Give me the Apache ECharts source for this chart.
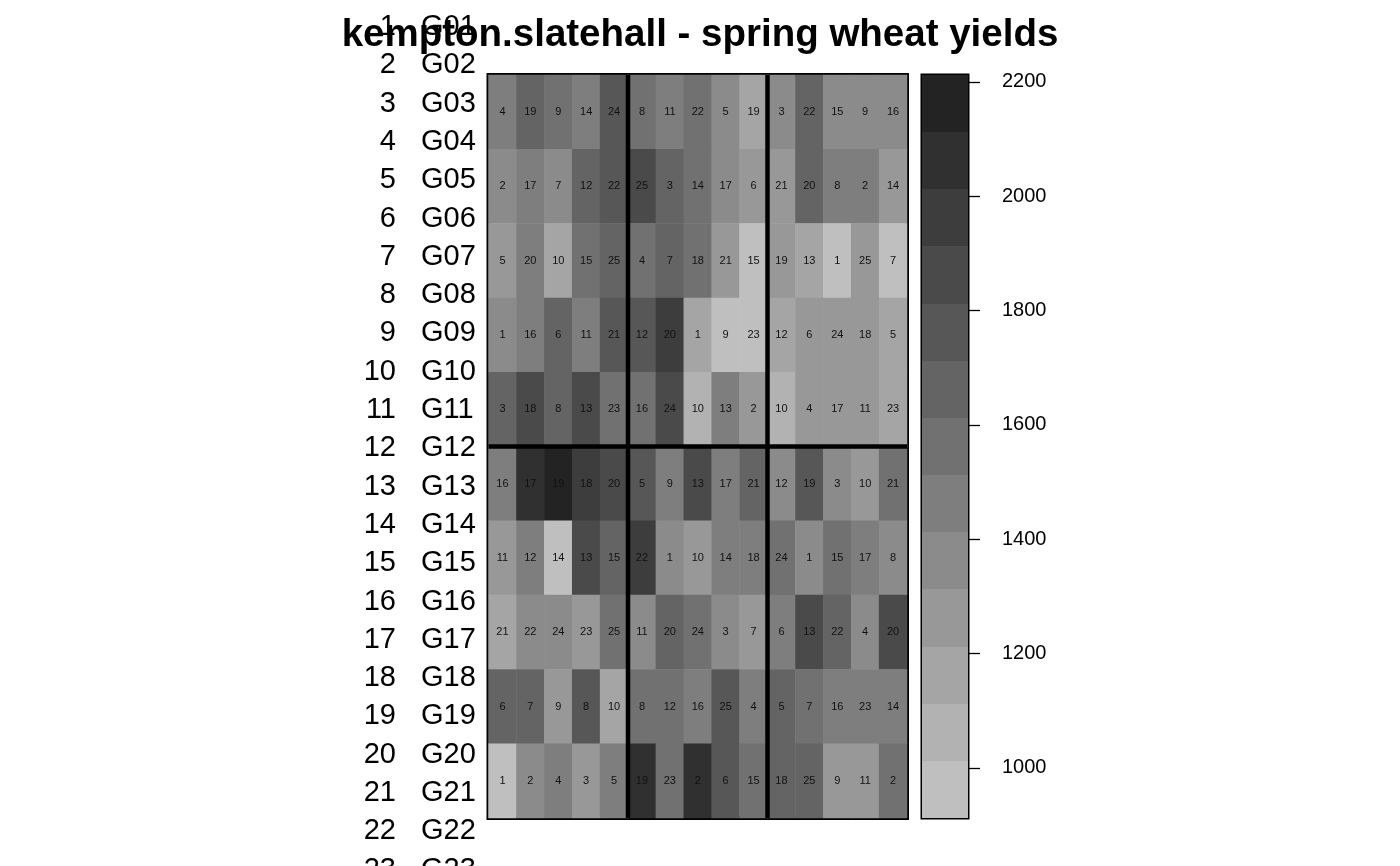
<!DOCTYPE html>
<html>
<head>
<meta charset="utf-8">
<script src="https://cdn.jsdelivr.net/npm/echarts@6/dist/echarts.min.js"></script>
<style>
  html, body { margin: 0; padding: 0; background: #fff; }
  #chart { width: 1400px; height: 866px; }
</style>
</head>
<body>
<div id="chart"></div>
<script>
// field layout: 10 rows x 15 columns, blocks of 5 x 5
const colNames = ['1', '2', '3', '4', '5', '6', '7', '8', '9', '10', '11', '12', '13', '14', '15']
const rowNames = ['1', '2', '3', '4', '5', '6', '7', '8', '9', '10']
const blockCols = [5, 10]   // column boundaries between reps
const blockRows = [5]       // row boundary between reps

// yield per plot, row by row
const yieldRows = [
  [1460, 1655, 1560, 1440, 1750, 1540, 1470, 1575, 1370, 1150, 1345, 1680, 1385, 1360, 1375],
  [1380, 1455, 1360, 1660, 1770, 1850, 1640, 1560, 1395, 1260, 1280, 1625, 1480, 1490, 1270],
  [1290, 1465, 1170, 1555, 1650, 1545, 1665, 1570, 1265, 960, 1275, 1180, 955, 1285, 945],
  [1375, 1450, 1640, 1480, 1760, 1740, 1950, 1160, 990, 950, 1190, 1255, 1250, 1240, 1195],
  [1650, 1860, 1660, 1880, 1590, 1550, 1870, 1070, 1440, 1270, 1085, 1245, 1260, 1250, 1200],
  [1470, 2070, 2170, 1960, 1885, 1775, 1465, 1845, 1450, 1630, 1340, 1735, 1375, 1295, 1580],
  [1260, 1480, 975, 1855, 1670, 1940, 1340, 1230, 1470, 1445, 1555, 1360, 1540, 1475, 1365],
  [1175, 1380, 1355, 1250, 1565, 1350, 1660, 1600, 1390, 1250, 1465, 1840, 1690, 1370, 1865],
  [1630, 1640, 1290, 1720, 1165, 1585, 1575, 1440, 1735, 1485, 1675, 1590, 1455, 1470, 1495],
  [990, 1365, 1460, 1260, 1485, 2030, 1545, 2050, 1745, 1565, 1690, 1660, 1275, 1285, 1595]
]

// genotype number printed in each plot
const genoRows = [
  [4, 19, 9, 14, 24, 8, 11, 22, 5, 19, 3, 22, 15, 9, 16],
  [2, 17, 7, 12, 22, 25, 3, 14, 17, 6, 21, 20, 8, 2, 14],
  [5, 20, 10, 15, 25, 4, 7, 18, 21, 15, 19, 13, 1, 25, 7],
  [1, 16, 6, 11, 21, 12, 20, 1, 9, 23, 12, 6, 24, 18, 5],
  [3, 18, 8, 13, 23, 16, 24, 10, 13, 2, 10, 4, 17, 11, 23],
  [16, 17, 19, 18, 20, 5, 9, 13, 17, 21, 12, 19, 3, 10, 21],
  [11, 12, 14, 13, 15, 22, 1, 10, 14, 18, 24, 1, 15, 17, 8],
  [21, 22, 24, 23, 25, 11, 20, 24, 3, 7, 6, 13, 22, 4, 20],
  [6, 7, 9, 8, 10, 8, 12, 16, 25, 4, 5, 7, 16, 23, 14],
  [1, 2, 4, 3, 5, 19, 23, 2, 6, 15, 18, 25, 9, 11, 2]
]

// colour key
const breaks = [912, 1012, 1112, 1212, 1312, 1412, 1512, 1612, 1712, 1812, 1912, 2012, 2112, 2212]
const grays = ['#bfbfbf', '#b2b2b2', '#a5a5a5', '#989898', '#8b8b8b', '#7e7e7e', '#717171',
  '#646464', '#575757', '#4a4a4a', '#3d3d3d', '#303030', '#232323']
const keyTicks = [1000, 1200, 1400, 1600, 1800, 2000, 2200]

// genotype key drawn down the left margin
const keyNumbers = ['1', '2', '3', '4', '5', '6', '7', '8', '9', '10', '11', '12',
  '13', '14', '15', '16', '17', '18', '19', '20', '21', '22', '23']
const keyCodes = ['G01', 'G02', 'G03', 'G04', 'G05', 'G06', 'G07', 'G08', 'G09', 'G10', 'G11', 'G12',
  'G13', 'G14', 'G15', 'G16', 'G17', 'G18', 'G19', 'G20', 'G21', 'G22', 'G23']

const FONT = 'Liberation Sans, Arial, sans-serif'

const cells = []
yieldRows.forEach((row, r) => {
  row.forEach((v, c) => {
    cells.push([c, r, v, genoRows[r][c]])
  })
})

const pieces = grays.map((g, i) => ({ gte: breaks[i], lt: breaks[i + 1], color: g }))
pieces[pieces.length - 1].lte = breaks[breaks.length - 1]

const bands = grays.map((g, i) => [0, breaks[i], breaks[i + 1]])

const dividers = blockCols.map(c => ['v', c]).concat(blockRows.map(r => ['h', r]))

const chart = echarts.init(document.getElementById('chart'))

const hiddenCat = { axisLine: { show: false }, axisTick: { show: false }, splitLine: { show: false } }
const keyText = { fontFamily: FONT, fontSize: 29, color: '#000' }

const option = {
  animation: false,
  backgroundColor: '#fff',
  title: {
    text: 'kempton.slatehall - spring wheat yields',
    left: 'center',
    top: 11,
    textStyle: { fontFamily: FONT, fontSize: 38.5, fontWeight: 'bold', color: '#000' }
  },
  grid: [
    // field
    { left: 488.5, top: 75, width: 418.5, height: 743, outerBoundsMode: 'none',
      show: true, borderColor: '#000', borderWidth: 4, backgroundColor: 'transparent' },
    // colour bar
    { left: 922, top: 75, width: 46, height: 743, outerBoundsMode: 'none',
      show: true, borderColor: '#000', borderWidth: 3, backgroundColor: 'transparent' },
    // genotype key
    { left: 397, top: 7.85, width: 24, height: 881, outerBoundsMode: 'none' }
  ],
  visualMap: {
    type: 'piecewise',
    show: false,
    seriesIndex: 0,
    dimension: 2,
    pieces: pieces
  },
  xAxis: [
    { type: 'category', gridIndex: 0, data: colNames, show: false },
    { type: 'value', gridIndex: 0, min: 0, max: colNames.length, show: false },
    { type: 'value', gridIndex: 1, min: 0, max: 1, show: false },
    { type: 'value', gridIndex: 2, show: false }
  ],
  yAxis: [
    { type: 'category', gridIndex: 0, data: rowNames, inverse: true, show: false },
    { type: 'value', gridIndex: 0, min: 0, max: rowNames.length, inverse: true, show: false },
    {
      type: 'value', gridIndex: 1, position: 'right',
      min: breaks[0], max: breaks[breaks.length - 1],
      axisLine: { show: false },
      splitLine: { show: false },
      axisTick: { show: false },
      axisLabel: {
        show: true, margin: 34, customValues: keyTicks,
        formatter: (v) => String(v),
        fontFamily: FONT, fontSize: 20, color: '#000'
      }
    },
    Object.assign({
      type: 'category', gridIndex: 2, data: keyNumbers, inverse: true, position: 'left',
      axisLabel: Object.assign({ interval: 0, margin: 1, align: 'right' }, keyText)
    }, hiddenCat),
    Object.assign({
      type: 'category', gridIndex: 2, data: keyCodes, inverse: true, position: 'right',
      axisLabel: Object.assign({ interval: 0, margin: 0, align: 'left' }, keyText)
    }, hiddenCat)
  ],
  series: [
    {
      type: 'heatmap',
      xAxisIndex: 0,
      yAxisIndex: 0,
      data: cells,
      label: {
        show: true,
        formatter: (p) => String(p.data[3]),
        fontFamily: FONT,
        fontSize: 11,
        color: '#111'
      },
      emphasis: { disabled: true }
    },
    {
      // thick lines between the replicate blocks
      type: 'custom',
      xAxisIndex: 1,
      yAxisIndex: 1,
      data: dividers,
      silent: true,
      z: 10,
      renderItem: (params, api) => {
        const d = dividers[params.dataIndex]
        const a = d[0] === 'v' ? api.coord([d[1], 0]) : api.coord([0, d[1]])
        const b = d[0] === 'v' ? api.coord([d[1], rowNames.length]) : api.coord([colNames.length, d[1]])
        return {
          type: 'line',
          shape: { x1: a[0], y1: a[1], x2: b[0], y2: b[1] },
          style: { stroke: '#000', lineWidth: 4.5 }
        }
      }
    },
    {
      // grey bands of the colour key
      type: 'custom',
      xAxisIndex: 2,
      yAxisIndex: 2,
      data: bands,
      encode: { x: 0, y: [1, 2] },
      silent: true,
      renderItem: (params, api) => {
        const lo = api.coord([0, api.value(1)])
        const hi = api.coord([1, api.value(2)])
        const y0 = Math.round(hi[1])
        const y1 = Math.round(lo[1])
        return {
          type: 'rect',
          shape: { x: lo[0], y: y0, width: hi[0] - lo[0], height: y1 - y0 },
          style: { fill: grays[params.dataIndex] }
        }
      }
    },
    {
      // tick marks of the colour key
      type: 'custom',
      xAxisIndex: 2,
      yAxisIndex: 2,
      data: keyTicks.map(v => [1, v]),
      silent: true,
      clip: false,
      z: 10,
      renderItem: (params, api) => {
        const p = api.coord([1, api.value(1)])
        return {
          type: 'line',
          shape: { x1: p[0], y1: Math.round(p[1]) + 0.5, x2: p[0] + 12, y2: Math.round(p[1]) + 0.5 },
          style: { stroke: '#000', lineWidth: 1.3 }
        }
      }
    }
  ]
}

chart.setOption(option)
</script>
</body>
</html>
